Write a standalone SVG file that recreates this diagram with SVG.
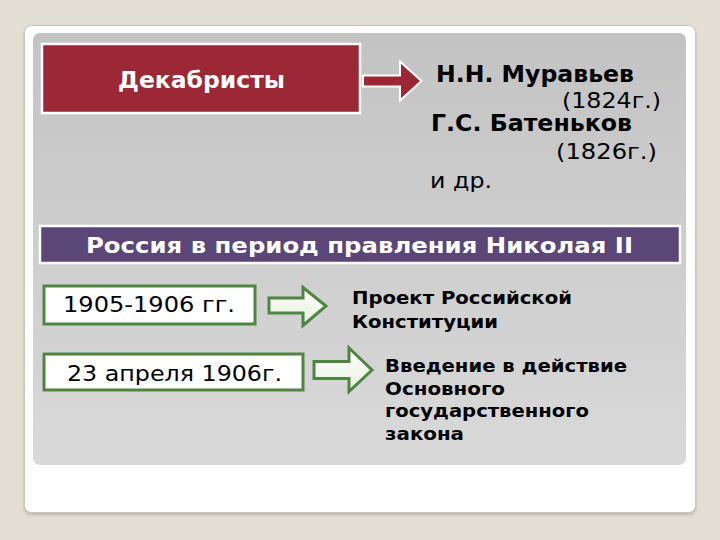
<svg xmlns="http://www.w3.org/2000/svg" width="720" height="540" viewBox="0 0 720 540">
<defs>
<linearGradient id="panel" x1="0" y1="0" x2="0" y2="1">
<stop offset="0" stop-color="#c3c3c3"/>
<stop offset="1" stop-color="#d9d9d9"/>
</linearGradient>
<linearGradient id="garrow" x1="0" y1="0" x2="0" y2="1">
<stop offset="0" stop-color="#ffffff"/>
<stop offset="1" stop-color="#e6f0dc"/>
</linearGradient>
<filter id="sh" x="-5%" y="-5%" width="110%" height="112%">
<feDropShadow dx="0" dy="2" stdDeviation="1.5" flood-color="#a8a294" flood-opacity="0.7"/>
</filter>
</defs>
<style>
.w{font-family:"DejaVu Sans","Liberation Sans",sans-serif;font-weight:bold;fill:#ffffff}
.b{font-family:"DejaVu Sans","Liberation Sans",sans-serif;font-weight:bold;fill:#000000}
.r{font-family:"DejaVu Sans","Liberation Sans",sans-serif;fill:#000000}
.gbox{fill:#ffffff;stroke:#4e8542;stroke-width:3}
.garr{fill:url(#garrow);stroke:#4e8542;stroke-width:3;stroke-linejoin:miter}
</style>
<rect width="720" height="540" fill="#e4dfd5"/>
<rect x="24.5" y="25.5" width="671" height="487" rx="7" fill="#ffffff" stroke="#c8c4bb" filter="url(#sh)"/>
<rect x="33" y="33" width="653" height="432" rx="7" fill="url(#panel)"/>

<g id="dekabristy">
<rect x="42" y="44" width="318" height="69" fill="#9c2735" stroke="#ffffff" stroke-width="2.5"/>
<text class="w" x="118" y="87.5" font-size="23" textLength="167" lengthAdjust="spacingAndGlyphs">Декабристы</text>
</g>

<g id="names">
<text class="b" x="436" y="82" font-size="23" textLength="198" lengthAdjust="spacingAndGlyphs">Н.Н. Муравьев</text>
<text class="r" x="562" y="108" font-size="21" textLength="99" lengthAdjust="spacingAndGlyphs">(1824г.)</text>
<text class="b" x="431" y="131" font-size="23" textLength="201" lengthAdjust="spacingAndGlyphs">Г.С. Батеньков</text>
<text class="r" x="556" y="159" font-size="21" textLength="101" lengthAdjust="spacingAndGlyphs">(1826г.)</text>
<text class="r" x="430" y="188" font-size="21" textLength="62" lengthAdjust="spacingAndGlyphs">и др.</text>
</g>

<g id="title">
<rect x="40" y="226" width="640" height="37" fill="#5a4677" stroke="#ffffff" stroke-width="2.5"/>
<text class="w" x="86" y="253" font-size="21" textLength="547" lengthAdjust="spacingAndGlyphs">Россия в период правления Николая II</text>
</g>

<g id="date1">
<rect class="gbox" x="44" y="286" width="211" height="38"/>
<text class="r" x="63" y="312" font-size="21" textLength="172" lengthAdjust="spacingAndGlyphs">1905-1906 гг.</text>
</g>
<g id="date2">
<rect class="gbox" x="44" y="354" width="259" height="36"/>
<text class="r" x="67" y="381" font-size="21" textLength="215" lengthAdjust="spacingAndGlyphs">23 апреля 1906г.</text>
</g>

<g id="result1">
<text class="b" x="352" y="304" font-size="17" textLength="220" lengthAdjust="spacingAndGlyphs">Проект Российской</text>
<text class="b" x="352" y="328" font-size="17" textLength="146" lengthAdjust="spacingAndGlyphs">Конституции</text>
</g>
<g id="result2">
<text class="b" x="385" y="372" font-size="17" textLength="242" lengthAdjust="spacingAndGlyphs">Введение в действие</text>
<text class="b" x="385" y="395" font-size="17" textLength="120" lengthAdjust="spacingAndGlyphs">Основного</text>
<text class="b" x="385" y="417" font-size="17" textLength="204" lengthAdjust="spacingAndGlyphs">государственного</text>
<text class="b" x="385" y="440" font-size="17" textLength="79" lengthAdjust="spacingAndGlyphs">закона</text>
</g>

<g id="connectors">
<path d="M363,75.5 H400 V61.5 L421.5,81 L400,100.5 V86.5 H363 Z" fill="#9c2735" stroke="#ffffff" stroke-width="2"/>
<path class="garr" d="M269,298 H303 V287.5 L326,306 L303,325.5 V313 H269 Z"/>
<path class="garr" d="M314,361.5 H349 V348 L372,370 L349,391.5 V378.5 H314 Z"/>
</g>
</svg>
